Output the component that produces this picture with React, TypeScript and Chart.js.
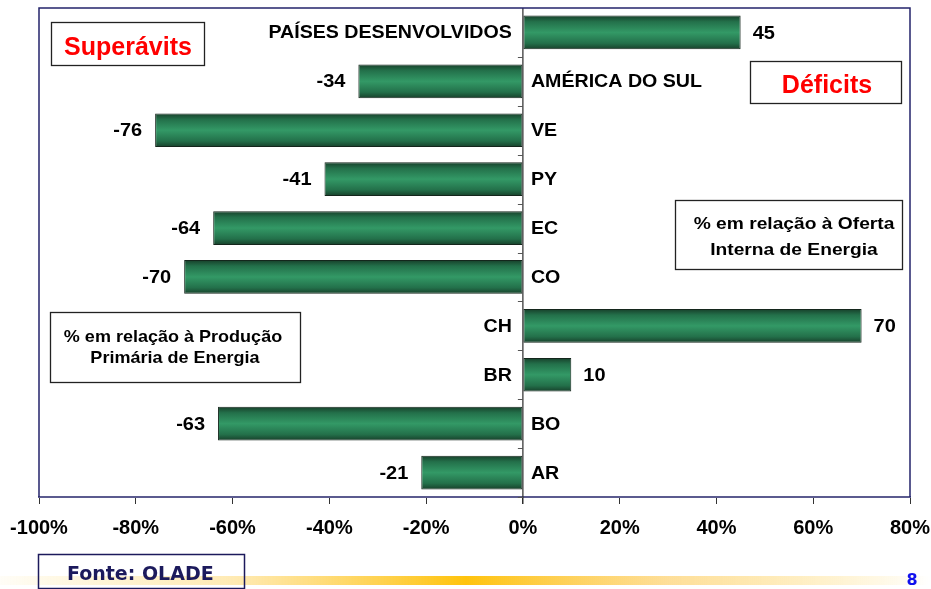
import { useEffect, useRef } from "react";
import { Chart, registerables } from "chart.js";

Chart.register(...registerables);

const categories = [
  "PAÍSES DESENVOLVIDOS",
  "AMÉRICA DO SUL",
  "VE",
  "PY",
  "EC",
  "CO",
  "CH",
  "BR",
  "BO",
  "AR",
];
const values = [45, -34, -76, -41, -64, -70, 70, 10, -63, -21];
const xMin = -100;
const xMax = 80;
const xStep = 20;
const titleLeft = "Superávits";
const titleRight = "Déficits";
const noteRight = ["% em relação à Oferta", "Interna de Energia"];
const noteLeft = ["% em relação à Produção", "Primária de Energia"];
const sourceText = "Fonte: OLADE";
const pageNumber = "8";

const BAR_PCT = 0.69;
const ARIAL = "'Liberation Sans', Arial, sans-serif";
const VERDANA = "'DejaVu Sans', Verdana, sans-serif";

function drawText(
  ctx: CanvasRenderingContext2D,
  s: string,
  x: number,
  y: number,
  font: string,
  color: string,
  align: "left" | "right" | "center",
  sx = 1,
  baseline: CanvasTextBaseline = "alphabetic"
) {
  ctx.save();
  ctx.font = font;
  ctx.fillStyle = color;
  ctx.textBaseline = baseline;
  ctx.textAlign = "left";
  const w = ctx.measureText(s).width * sx;
  const left = align === "left" ? x : align === "right" ? x - w : x - w / 2;
  ctx.translate(left, y);
  ctx.scale(sx, 1);
  ctx.fillText(s, 0, 0);
  ctx.restore();
}

function strokeBox(ctx: CanvasRenderingContext2D, x: number, y: number, w: number, h: number, color: string, lw: number) {
  ctx.save();
  ctx.strokeStyle = color;
  ctx.lineWidth = lw;
  ctx.strokeRect(x, y, w, h);
  ctx.restore();
}

const overlayPlugin = {
  id: "overlay",
  afterDatasetsDraw(chart: any) {
    const ctx: CanvasRenderingContext2D = chart.ctx;
    const xs = chart.scales.x;
    const ys = chart.scales.y;
    const area = chart.chartArea;
    const x0 = xs.getPixelForValue(0);
    const n = categories.length;

    ctx.save();
    ctx.strokeStyle = "#2a2a2a";
    ctx.lineWidth = 1.2;
    ctx.beginPath();
    ctx.moveTo(x0, area.top);
    ctx.lineTo(x0, area.bottom + 7);
    ctx.stroke();
    ctx.strokeStyle = "#555";
    ctx.lineWidth = 1;
    for (let i = 1; i <= n; i++) {
      const yb =
        i === n
          ? area.bottom
          : (ys.getPixelForValue(i - 1) + ys.getPixelForValue(i)) / 2;
      ctx.beginPath();
      ctx.moveTo(x0 - 5, Math.round(yb) + 0.5);
      ctx.lineTo(x0, Math.round(yb) + 0.5);
      ctx.stroke();
    }
    ctx.restore();

    const meta = chart.getDatasetMeta(0);
    meta.data.forEach((bar: any, i: number) => {
      const v = values[i];
      const yc = bar.y;
      const valFont = `bold 18.5px ${ARIAL}`;
      const catFont = `bold 18px ${ARIAL}`;
      if (v >= 0) {
        drawText(ctx, String(v), bar.x + 12, yc + 1, valFont, "#000", "left", 1.08, "middle");
        drawText(ctx, categories[i], x0 - 11, yc + 1, catFont, "#000", "right", 1.09, "middle");
      } else {
        drawText(ctx, String(v), bar.x - 13, yc + 1, valFont, "#000", "right", 1.08, "middle");
        drawText(ctx, categories[i], x0 + 8, yc + 1, catFont, "#000", "left", 1.09, "middle");
      }
    });
  },
  afterDraw(chart: any) {
    const ctx: CanvasRenderingContext2D = chart.ctx;
    const area = chart.chartArea;

    ctx.save();
    ctx.strokeStyle = "#23236b";
    ctx.lineWidth = 1.5;
    ctx.beginPath();
    ctx.moveTo(area.left, area.bottom);
    ctx.lineTo(area.left, area.top);
    ctx.lineTo(area.right, area.top);
    ctx.lineTo(area.right, area.bottom);
    ctx.stroke();
    ctx.restore();

    ctx.save();
    ctx.fillStyle = "#fff";
    ctx.fillRect(51, 22, 154, 44);
    ctx.fillRect(750, 61, 152, 43);
    ctx.fillRect(675.5, 200, 227, 70);
    ctx.fillRect(50, 312, 251, 71);
    ctx.restore();
    strokeBox(ctx, 51.5, 22.5, 153, 43, "#222", 1.3);
    drawText(ctx, titleLeft, 128, 55, `bold 25px ${ARIAL}`, "#ff0000", "center");
    strokeBox(ctx, 750.5, 61.5, 151, 42, "#222", 1.3);
    drawText(ctx, titleRight, 827, 93, `bold 25px ${ARIAL}`, "#ff0000", "center");

    strokeBox(ctx, 675.5, 200.5, 227, 69, "#222", 1.3);
    drawText(ctx, noteRight[0], 794, 229, `bold 17px ${ARIAL}`, "#000", "center", 1.13);
    drawText(ctx, noteRight[1], 794, 255, `bold 17px ${ARIAL}`, "#000", "center", 1.13);
    strokeBox(ctx, 50.5, 312.5, 250, 70, "#222", 1.3);
    drawText(ctx, noteLeft[0], 173, 342, `bold 17px ${ARIAL}`, "#000", "center", 1.06);
    drawText(ctx, noteLeft[1], 175, 363, `bold 17px ${ARIAL}`, "#000", "center", 1.06);

    ctx.save();
    const g = ctx.createLinearGradient(0, 0, 931, 0);
    g.addColorStop(0, "rgba(255,192,0,0.03)");
    g.addColorStop(0.25, "rgba(255,196,40,0.35)");
    g.addColorStop(0.5, "rgba(255,192,0,0.95)");
    g.addColorStop(0.72, "rgba(253,196,70,0.55)");
    g.addColorStop(1, "rgba(255,192,0,0.0)");
    ctx.fillStyle = g;
    ctx.fillRect(0, 576, 931, 9);
    ctx.restore();

    strokeBox(ctx, 38.5, 554.5, 206, 34, "#1c1a5c", 1.5);
    drawText(ctx, sourceText, 67, 580, `bold 19px ${VERDANA}`, "#1c1a5c", "left");
    drawText(ctx, pageNumber, 912, 585, `bold 16px ${VERDANA}`, "#1010ee", "center");
  },
};

export default function App() {
  const ref = useRef<HTMLCanvasElement | null>(null);
  useEffect(() => {
    if (!ref.current) return;
    const chart = new Chart(ref.current, {
      type: "bar",
      data: {
        labels: categories,
        datasets: [
          {
            data: values,
            backgroundColor: (c: any) => {
              const chart = c.chart;
              const ys = chart.scales && chart.scales.y;
              if (!ys || c.type !== "data") return "#2e8b57";
              const yc = ys.getPixelForValue(c.dataIndex);
              const band = Math.abs(ys.getPixelForValue(1) - ys.getPixelForValue(0));
              if (!isFinite(yc) || !isFinite(band) || band <= 0) return "#2e8b57";
              const h = (band * BAR_PCT) / 2;
              const gr = chart.ctx.createLinearGradient(0, yc - h, 0, yc + h);
              gr.addColorStop(0, "#173f2a");
              gr.addColorStop(0.18, "#23704a");
              gr.addColorStop(0.5, "#339966");
              gr.addColorStop(0.82, "#23704a");
              gr.addColorStop(1, "#173f2a");
              return gr;
            },
            borderColor: "#14261c",
            borderWidth: 1,
            borderSkipped: false,
            barPercentage: BAR_PCT,
            categoryPercentage: 1,
          },
        ],
      },
      options: {
        indexAxis: "y",
        animation: false,
        responsive: false,
        devicePixelRatio: 1,
        layout: { padding: { left: 39, right: 21, top: 8, bottom: 0 } },
        plugins: { legend: { display: false }, tooltip: { enabled: false } },
        scales: {
          x: {
            min: xMin,
            max: xMax,
            ticks: {
              stepSize: xStep,
              autoSkip: false,
              maxRotation: 0,
              padding: 12,
              color: "#000",
              font: { family: ARIAL, size: 20, weight: "bold" },
              callback: (v: any) => `${v}%`,
            },
            grid: { drawOnChartArea: false, drawTicks: true, tickLength: 7, color: "#333" },
            border: { color: "#5b5b8f", width: 2 },
            afterFit: (s: any) => {
              s.height = 92;
              s.paddingLeft = 0;
              s.paddingRight = 0;
            },
          },
          y: { display: false },
        },
      } as any,
      plugins: [overlayPlugin],
    });
    return () => chart.destroy();
  }, []);
  return (
    <div style={{ position: "absolute", left: 0, top: 0, width: 931, height: 589, background: "#fff" }}>
      <canvas ref={ref} width={931} height={589} style={{ display: "block" }} />
    </div>
  );
}
